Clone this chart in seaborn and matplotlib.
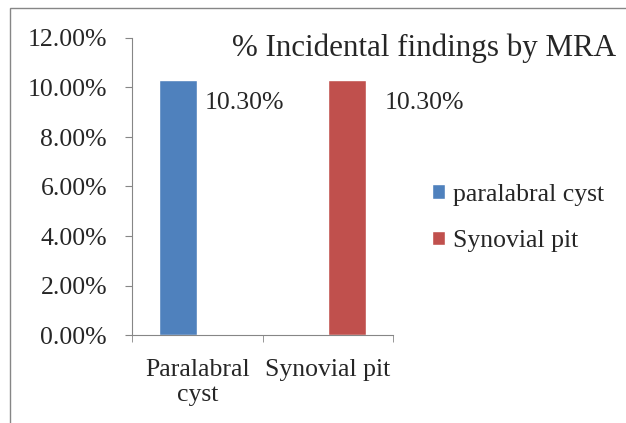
import pandas as pd
import matplotlib.pyplot as plt
import seaborn as sns
from matplotlib.patches import Rectangle
from matplotlib.ticker import PercentFormatter

categories = ['Paralabral\ncyst', 'Synovial pit']
series = ['paralabral cyst', 'Synovial pit']
values = [10.3, 10.3]
colors = ['#4f81bd', '#c0504d']

rows = []
for i, cat in enumerate(categories):
    for j, s in enumerate(series):
        rows.append({'cat': cat, 'series': s, 'pct': values[i] if i == j else 0.0})
df = pd.DataFrame(rows)

sns.set_style("white")
plt.rcParams['font.family'] = ['Liberation Serif', 'DejaVu Serif']
fs = 18.5

fig = plt.figure(figsize=(6.26, 4.23), dpi=100)
fig.patches.append(Rectangle((10 / 626, -0.1), 2, 1.1 - 8 / 423, transform=fig.transFigure,
                             fill=False, edgecolor='#868686', linewidth=1))
ax = fig.add_axes([132 / 626, 1 - 335 / 423, 261 / 626, 297 / 423])

sns.barplot(data=df, x='cat', y='pct', hue='series', palette=colors, width=0.58,
            saturation=1, ax=ax, legend=True)

# label offsets in pixels to the right of each bar
label_dx = [5, 14]
for k, cont in enumerate(ax.containers):
    bar = cont.patches[k]
    ax.annotate(f'{values[k]:.2f}%', (bar.get_x() + bar.get_width(), values[k] - 0.93),
                xytext=(label_dx[k], 0), textcoords='offset points',
                fontsize=fs, ha='left', va='center')

ax.set_ylim(0, 12)
ax.set_xlim(-0.5, 1.5)
ax.set_yticks([0, 2, 4, 6, 8, 10, 12])
ax.yaxis.set_major_formatter(PercentFormatter(decimals=2))
ax.set_xticks([-0.5, 0.5, 1.5], minor=True)
ax.tick_params(axis='x', which='major', length=0, labelsize=fs, pad=17)
ax.tick_params(axis='x', which='minor', length=5, color='#868686', direction='out')
ax.tick_params(axis='y', length=5, color='#868686', direction='out', labelsize=fs, pad=13)
ax.tick_params(bottom=True, left=True, which='both')
ax.set_xlabel('')
ax.set_ylabel('')
for side in ['top', 'right']:
    ax.spines[side].set_visible(False)
for side in ['left', 'bottom']:
    ax.spines[side].set_color('#868686')

fig.text(232 / 626, 1 - 48 / 423, '% Incidental findings by MRA', fontsize=22.3,
         ha='left', va='center')

leg = ax.legend(loc='center left', bbox_to_anchor=(432 / 626, 1 - 218 / 423),
                bbox_transform=fig.transFigure, frameon=False, fontsize=fs,
                handlelength=0.5, handleheight=0.5, handletextpad=0.3,
                labelspacing=0.95, borderaxespad=0, borderpad=0)

fig.savefig('out.png', dpi=100)
